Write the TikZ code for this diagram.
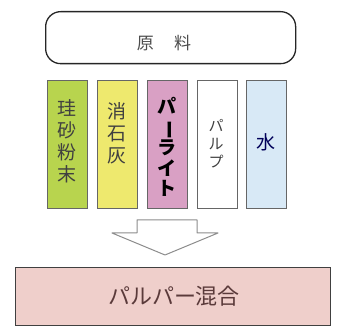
\documentclass[tikz,border=0pt]{standalone}
\usepackage{fontspec}
\usepackage{graphicx}
\newfontfamily\jp{Noto Sans CJK JP}
\definecolor{cgreen}{HTML}{B8D44E}
\definecolor{cyellow}{HTML}{EEE96E}
\definecolor{cpink}{HTML}{D9A0C4}
\definecolor{cblue}{HTML}{D8E9F6}
\definecolor{cbottom}{HTML}{EFCFCB}
\definecolor{ctext}{HTML}{5A3A3A}
\newcommand{\vbar}{\rotatebox[origin=c]{-90}{ー}}
\begin{document}
\begin{tikzpicture}[x=1pt,y=-1pt,
  col/.style={draw=black!60, line width=0.8pt, minimum width=40pt, minimum height=128pt, inner sep=0pt, anchor=north west},
  vtext/.style={align=center, font=\jp\fontsize{19}{22}\selectfont, text=black!75}]
\useasboundingbox (0,0) rectangle (338,334);
\node[draw=black!85, line width=1.3pt, rounded corners=15pt, minimum width=250pt, minimum height=52pt, inner sep=0pt, anchor=north west] (raw) at (45,11) {};
\node[font=\jp\fontsize{17}{17}\selectfont, text=black!70] (rawt) at (164,43) {原\hspace{1.2em}料};

\node[col, fill=cgreen] (c1) at (47,80) {};
\node[col, fill=cyellow] (c2) at (97,80) {};
\node[col, fill=cpink] (c3) at (147,80) {};
\node[col, fill=white] (c4) at (197,80) {};
\node[col, fill=cblue] (c5) at (246,80) {};

\node[vtext] (t1) at (67,141) {珪\\砂\\粉\\末};
\node[vtext] (t2) at (117,133) {消\\石\\灰};
\node[vtext, font=\jp\bfseries\fontsize{19}{20.5}\selectfont, text=black] (t3) at (167,147) {パ\\\vbar\\ラ\\イ\\ト};
\node[vtext, font=\jp\fontsize{15}{18}\selectfont] (t4) at (216,144) {パ\\ル\\プ};
\node[vtext, text=black!65!blue] (t5) at (266,142) {水};

\draw[draw=black!45, line width=1pt, fill=white, line join=round]
  (137,220) -- (197,220) -- (197,233) -- (218,233) -- (165,255) -- (112,233) -- (137,233) -- cycle;

\node[draw=black!75, line width=1.2pt, fill=cbottom, minimum width=315pt, minimum height=58pt, inner sep=0pt, anchor=north west] (mix) at (15,267) {};
\node[font=\jp\fontsize{22}{22}\selectfont, text=ctext] (mixt) at (174,296) {パルパー混合};
\end{tikzpicture}
\end{document}
